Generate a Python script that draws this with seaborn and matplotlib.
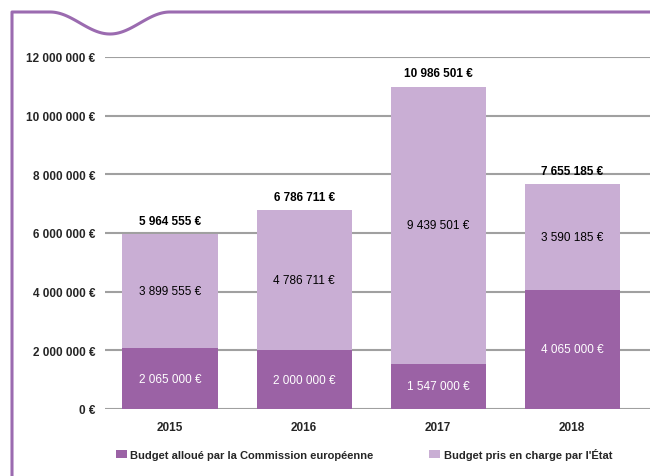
import numpy as np
import pandas as pd
import matplotlib
matplotlib.use("Agg")
import matplotlib.pyplot as plt
from matplotlib.ticker import FuncFormatter
from matplotlib.lines import Line2D
from matplotlib.patches import Patch
import seaborn as sns

annees = ["2015", "2016", "2017", "2018"]
budget_commission = [2065000, 2000000, 1547000, 4065000]
budget_etat = [3899555, 4786711, 9439501, 3590185]
legende = ["Budget alloué par la Commission européenne",
           "Budget pris en charge par l'État"]

df = pd.DataFrame({"annee": annees,
                   "commission": budget_commission,
                   "etat": budget_etat})
df["total"] = df["commission"] + df["etat"]

violet_fonce = "#9b62a5"
violet_clair = "#c9aed4"
cadre = "#9b6bb0"

sns.set_style("white")
plt.rcParams["font.family"] = ["Liberation Sans", "DejaVu Sans"]


def euros(v):
    return f"{int(round(v)):,}".replace(",", " ") + " €"


fig = plt.figure(figsize=(6.5, 4.77), dpi=100)
ax = fig.add_axes([105 / 650, 1 - 410 / 477, 1 - 105 / 650, (410 - 58) / 477])

# barres empilees : total en clair, part commission en fonce par-dessus
sns.barplot(data=df, x="annee", y="total", color=violet_clair, width=0.71,
            saturation=1, linewidth=0, ax=ax)
sns.barplot(data=df, x="annee", y="commission", color=violet_fonce, width=0.71,
            saturation=1, linewidth=0, ax=ax)

ax.set_xlim(-0.485, 3.58)
ax.set_ylim(0, 12000000)
ax.set_yticks(np.arange(0, 12000001, 2000000))
ax.yaxis.set_major_formatter(FuncFormatter(lambda v, p: euros(v)))
ax.set_axisbelow(True)
ax.yaxis.grid(True, color="#a0a0a0", linewidth=1.5)
ax.xaxis.grid(False)
for s in ax.spines.values():
    s.set_visible(False)
ax.tick_params(axis="y", length=0, pad=7, labelsize=8.5)
ax.tick_params(axis="x", length=0, pad=9, labelsize=8.5)
for lab in ax.get_yticklabels() + ax.get_xticklabels():
    lab.set_fontweight("bold")
ax.set_xlabel("")
ax.set_ylabel("")

for i, row in df.iterrows():
    ax.text(i, row["commission"] / 2, euros(row["commission"]), ha="center",
            va="center", color="white", fontsize=8.5)
    ax.text(i, row["commission"] + row["etat"] / 2, euros(row["etat"]),
            ha="center", va="center", color="black", fontsize=8.5)
    ax.text(i, row["total"] + 250000, euros(row["total"]), ha="center",
            va="bottom", color="black", fontsize=8.5, fontweight="bold")

handles = [Patch(facecolor=violet_fonce, edgecolor="none"),
           Patch(facecolor=violet_clair, edgecolor="none")]
leg = fig.legend(handles, legende, loc="center", bbox_to_anchor=(0.56, 1 - 455 / 477),
                 ncol=2, frameon=False, fontsize=8, handlelength=1.0,
                 handleheight=0.7, handletextpad=0.3, columnspacing=5.0)
for t in leg.get_texts():
    t.set_fontweight("bold")

# cadre violet avec l'onde en haut a gauche
xs = np.linspace(50, 170, 80)
ys = 13 + 11 * (1 - np.cos(2 * np.pi * (xs - 50) / 120))
px = np.concatenate([[12, 12], xs, [650]])
py = np.concatenate([[477, 13], ys, [13]])
fig.add_artist(Line2D(px / 650, 1 - py / 477, color=cadre, linewidth=2.2,
                      transform=fig.transFigure))

fig.savefig("out.png", dpi=100)
